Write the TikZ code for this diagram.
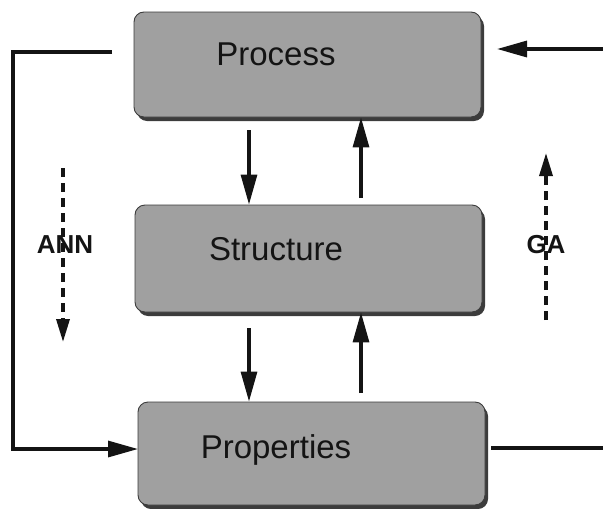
\documentclass[tikz,border=0pt]{standalone}
\usepackage{fontspec}
\setmainfont{Liberation Sans}
\usetikzlibrary{arrows.meta,shadows}
\definecolor{boxgray}{RGB}{160,160,160}
\definecolor{shadegray}{RGB}{60,60,60}
\definecolor{inkgray}{RGB}{20,20,20}
\tikzset{
  stagebox/.style={draw=shadegray, line width=0.9pt, fill=boxgray,
    rounded corners=10pt, minimum width=347pt, inner sep=0pt,
    drop shadow={shadow xshift=3pt, shadow yshift=-4pt, fill=shadegray, opacity=1}},
  stagetext/.style={anchor=base, font=\fontsize{33}{36}\selectfont, text=inkgray, inner sep=0pt},
  methodtext/.style={anchor=base, font=\fontsize{26}{29}\selectfont\bfseries, text=inkgray, inner sep=0pt},
  flow/.style={line width=3.2pt, draw=inkgray, -{Triangle[length=30pt,width=16pt]}},
  link/.style={line width=3.2pt, draw=inkgray},
  method/.style={line width=3.4pt, draw=inkgray, dash pattern=on 9pt off 6pt,
    -{Triangle[length=23pt,width=13pt]}}
}
\begin{document}
\begin{tikzpicture}[x=1pt,y=-1pt]
\useasboundingbox (0,0) rectangle (603,509);

% the three stages
\node[stagebox, minimum height=105pt] (proc) at (307.5,64.5) {};
\node[stagebox, minimum height=107pt] (struc) at (308.5,258.5) {};
\node[stagebox, minimum height=103pt] (prop) at (311.5,453.5) {};

\node[stagetext] (proct) at (276,65) {Process};
\node[stagetext] (struct) at (276,260) {Structure};
\node[stagetext] (propt) at (276,458) {Properties};

% start points of the connectors
\coordinate (d1) at (249,130);
\coordinate (u1) at (361,198);
\coordinate (d2) at (249,328);
\coordinate (u2) at (361,393);
\coordinate (lfa) at (112,52);
\coordinate (lfb) at (13,52);
\coordinate (lfc) at (13,449);
\coordinate (lfd) at (138,449);
\coordinate (rin) at (603,49);
\coordinate (rtip) at (497,49);
\coordinate (rout) at (491,448);
\coordinate (rend) at (603,448);

% vertical links between the stages
\draw[flow] (d1) -- (d1 |- struc.north);
\draw[flow] (u1) -- (u1 |- proc.south);
\draw[flow] (d2) -- (d2 |- prop.north);
\draw[flow] (u2) -- (u2 |- struc.south);

% outer loop on the left, inputs and outputs on the right
\draw[flow] (lfa) -- (lfb) -- (lfc) -- (lfd);
\draw[flow] (rin) -- (rtip);
\draw[link] (rout) -- (rend);

% direction of the two methods
\coordinate (anna) at (63,168);
\coordinate (annb) at (63,342);
\coordinate (gaa) at (546,320);
\coordinate (gab) at (546,153);
\draw[method] (anna) -- (annb);
\draw[method] (gaa) -- (gab);

\node[methodtext] (ann) at (65,253) {ANN};
\node[methodtext] (ga) at (546,253) {GA};
\end{tikzpicture}
\end{document}
